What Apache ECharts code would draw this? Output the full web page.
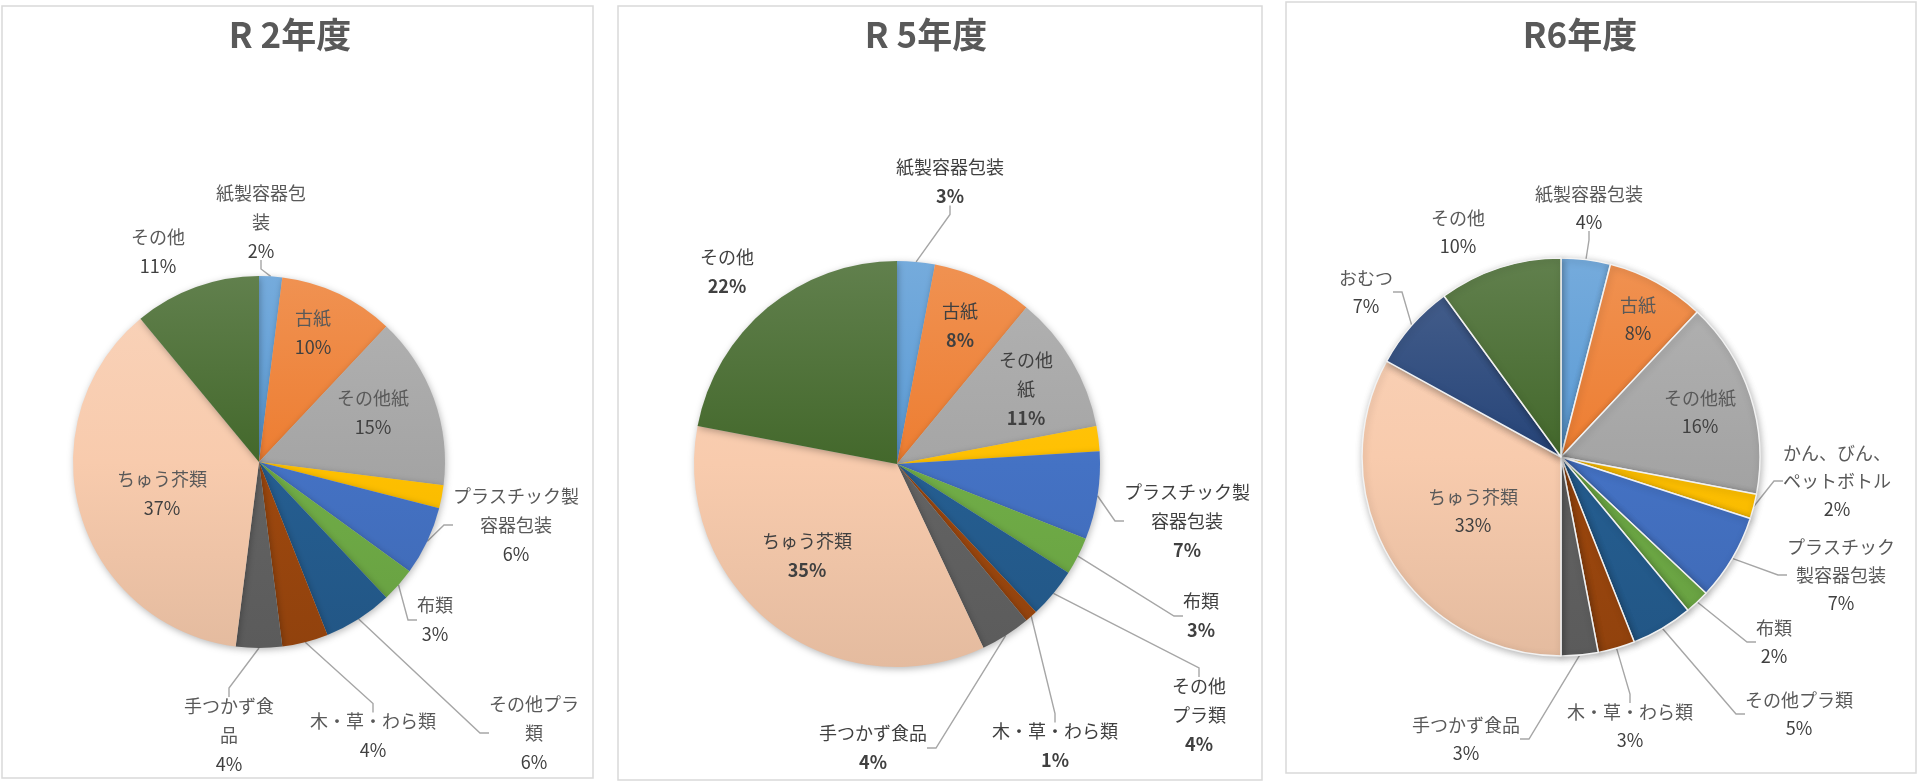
<!DOCTYPE html>
<html lang="ja">
<head>
<meta charset="utf-8">
<title>ごみ組成 R2・R5・R6</title>
<script src="https://cdn.jsdelivr.net/npm/echarts@6/dist/echarts.min.js"></script>
<style>
  html, body { margin: 0; padding: 0; background: #fff; }
  #chart { width: 1919px; height: 783px; }
</style>
</head>
<body>
<div id="chart"></div>
<script>
// ====== データ ======
const r2Names = ['紙製容器包装', '古紙', 'その他紙', 'かん、びん、ペットボトル', 'プラスチック製容器包装', '布類', 'その他プラ類', '木・草・わら類', '手つかず食品', 'ちゅう芥類', 'その他'];
const r2Values = [2, 10, 15, 2, 6, 3, 6, 4, 4, 37, 11];
const r2Labels = ['紙製容器包\n装', '古紙', 'その他紙', '', 'プラスチック製\n容器包装', '布類', 'その他プラ\n類', '木・草・わら類', '手つかず食\n品', 'ちゅう芥類', 'その他'];

const r5Names = ['紙製容器包装', '古紙', 'その他紙', 'かん、びん、ペットボトル', 'プラスチック製容器包装', '布類', 'その他プラ類', '木・草・わら類', '手つかず食品', 'ちゅう芥類', 'その他'];
const r5Values = [3, 8, 11, 2, 7, 3, 4, 1, 4, 35, 22];
const r5Labels = ['紙製容器包装', '古紙', 'その他\n紙', '', 'プラスチック製\n容器包装', '布類', 'その他\nプラ類', '木・草・わら類', '手つかず食品', 'ちゅう芥類', 'その他'];

const r6Names = ['紙製容器包装', '古紙', 'その他紙', 'かん、びん、ペットボトル', 'プラスチック製容器包装', '布類', 'その他プラ類', '木・草・わら類', '手つかず食品', 'ちゅう芥類', 'おむつ', 'その他'];
const r6Values = [4, 8, 16, 2, 7, 2, 5, 3, 3, 33, 7, 10];
const r6Labels = ['紙製容器包装', '古紙', 'その他紙', 'かん、びん、\nペットボトル', 'プラスチック\n製容器包装', '布類', 'その他プラ類', '木・草・わら類', '手つかず食品', 'ちゅう芥類', 'おむつ', 'その他'];

const titles = ['R 2年度', 'R 5年度', 'R6年度'];

// ====== 色（Excel 既定配色） ======
const colorOf = {
  '紙製容器包装': '#5B9BD5', '古紙': '#ED7D31', 'その他紙': '#A5A5A5',
  'かん、びん、ペットボトル': '#FFC000', 'プラスチック製容器包装': '#4472C4', '布類': '#70AD47',
  'その他プラ類': '#255E91', '木・草・わら類': '#9E480E', '手つかず食品': '#636363',
  'ちゅう芥類': '#F8CBAD', 'おむつ': '#264478', 'その他': '#43682B'
};

// ====== レイアウト（ラベル位置は円の中心からのずれ px） ======
const r2Spots = [[2, -240], [54, -129], [114, -49], null, [257, 63], [176, 158], [275, 271], [114, 274], [-30, 273], [-97, 32], [-101, -210]];
const r5Spots = [[53, -282], [63, -138], [129, -75], null, [290, 57], [304, 152], [302, 251], [158, 282], [-24, 284], [-90, 92], [-170, -192]];
const r6Spots = [[28, -249], [77, -138], [139, -45], [276, 24], [280, 118], [213, 185], [238, 257], [69, 269], [-95, 282], [-88, 54], [-195, -165], [-103, -225]];

const lineOn = {
  r2: ['紙製容器包装', 'プラスチック製容器包装', '布類', 'その他プラ類', '木・草・わら類', '手つかず食品'],
  r5: ['紙製容器包装', 'プラスチック製容器包装', '布類', 'その他プラ類', '木・草・わら類', '手つかず食品'],
  r6: ['紙製容器包装', 'かん、びん、ペットボトル', 'プラスチック製容器包装', '布類', 'その他プラ類', '木・草・わら類', '手つかず食品', 'おむつ']
};

const panels = [
  { key: 'r2', names: r2Names, values: r2Values, labels: r2Labels, spots: r2Spots,
    cx: 259, cy: 462, r: 186, titleX: 290, box: [2, 6, 591, 772], bold: false, border: false, lh: 29 },
  { key: 'r5', names: r5Names, values: r5Values, labels: r5Labels, spots: r5Spots,
    cx: 897, cy: 464, r: 203, titleX: 926, box: [618, 6, 644, 774], bold: true, border: false, lh: 29 },
  { key: 'r6', names: r6Names, values: r6Values, labels: r6Labels, spots: r6Spots,
    cx: 1561, cy: 457, r: 199, titleX: 1580, box: [1286, 2, 630, 771], bold: false, border: true, lh: 28 }
];

const FONT = '"Noto Sans CJK JP", "Noto Sans", sans-serif';

// 色を白/黒に寄せる
function mix(hex, target, t) {
  const a = parseInt(hex.slice(1), 16);
  const m = c => Math.round(c + (target - c) * t);
  return `rgb(${m((a >> 16) & 255)},${m((a >> 8) & 255)},${m(a & 255)})`;
}

// 円全体にかかる縦グラデーション（Excel 風）
function shade(hex, p) {
  return {
    type: 'linear', global: true,
    x: 0, y: p.cy - p.r, x2: 0, y2: p.cy + p.r,
    colorStops: [
      { offset: 0, color: mix(hex, 255, 0.16) },
      { offset: 0.5, color: hex },
      { offset: 1, color: mix(hex, 0, 0.08) }
    ]
  };
}

const chart = echarts.init(document.getElementById('chart'));

const series = panels.map(p => ({
  type: 'pie',
  center: [p.cx, p.cy],
  radius: p.r,
  startAngle: 90,
  clockwise: true,
  percentPrecision: 0,
  avoidLabelOverlap: false,
  animation: false,
  itemStyle: {
    borderColor: p.border ? '#F2F2F2' : 'rgba(0,0,0,0)',
    borderWidth: p.border ? 1.5 : 0,
    shadowBlur: 7,
    shadowColor: 'rgba(0,0,0,0.28)',
    shadowOffsetX: 1,
    shadowOffsetY: 2
  },
  label: {
    position: 'outside',
    alignTo: 'none',
    fontFamily: FONT,
    formatter: d => `{n|${p.labels[d.dataIndex]}}\n{v|${d.percent}%}`,
    rich: {
      n: { fontSize: 18, lineHeight: p.lh, color: p.bold ? '#404040' : '#595959', fontFamily: FONT },
      v: { fontSize: 18, lineHeight: p.lh, color: '#404040', fontFamily: FONT, fontWeight: p.bold ? 'bold' : 'normal' }
    }
  },
  labelLine: {
    length: 0,
    length2: 9,
    minTurnAngle: 90,
    lineStyle: { color: '#A6A6A6', width: 1.4 }
  },
  labelLayout: d => {
    const s = p.spots[d.dataIndex];
    if (!s) return {};
    return { x: p.cx + s[0], y: p.cy + s[1], align: 'center', verticalAlign: 'middle', hideOverlap: false };
  },
  emphasis: { disabled: true },
  data: p.names.map((n, i) => ({
    name: n,
    value: p.values[i],
    itemStyle: { color: shade(colorOf[n], p) },
    label: { show: p.spots[i] != null },
    labelLine: { show: lineOn[p.key].includes(n) }
  }))
}));

chart.setOption({
  backgroundColor: '#ffffff',
  title: panels.map((p, i) => ({
    text: titles[i],
    left: p.titleX,
    top: 17,
    textAlign: 'center',
    padding: 0,
    textStyle: { fontSize: 35, fontWeight: 'bold', color: '#595959', fontFamily: FONT }
  })),
  graphic: panels.map(p => ({
    type: 'rect',
    silent: true,
    z: -1,
    shape: { x: p.box[0], y: p.box[1], width: p.box[2], height: p.box[3] },
    style: { fill: 'none', stroke: '#D9D9D9', lineWidth: 1.5 }
  })),
  series
});

window.addEventListener('resize', () => chart.resize());
</script>
</body>
</html>
